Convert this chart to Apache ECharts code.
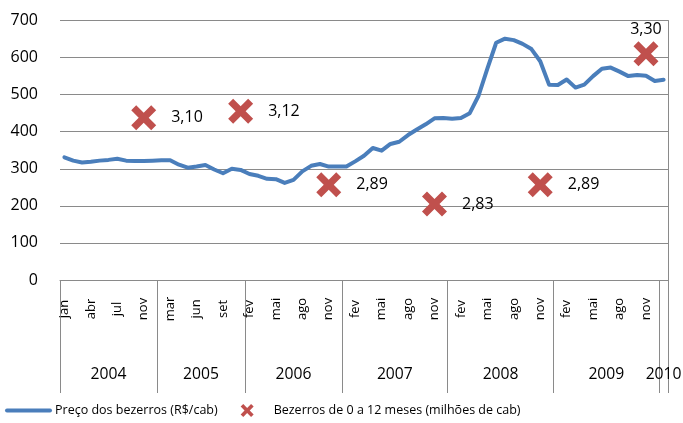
<!DOCTYPE html>
<html>
<head>
<meta charset="utf-8" />
<script src="https://cdn.jsdelivr.net/npm/echarts@6/dist/echarts.min.js"></script>
<style>
  html, body { margin: 0; padding: 0; background: #fff; }
  #chart { width: 683px; height: 423px; }
</style>
</head>
<body>
<div id="chart"></div>
<script type="text/javascript">
// meses (categorias) agrupados por ano
var months = [
  'jan','fev','mar','abr','mai','jun','jul','ago','out','nov','dez',
  'fev','mar','abr','mai','jun','jul','ago','set','out','nov',
  'fev','mar','abr','mai','jun','jul','ago','set','out','nov','dez',
  'jan','fev','mar','abr','mai','jun','jul','ago','set','out','nov','dez',
  'jan','fev','mar','abr','mai','jun','jul','ago','set','out','nov','dez',
  'jan','fev','mar','abr','mai','jun','jul','ago','set','out','nov','dez',
  'jan'
];
var years = ['2004', '2005', '2006', '2007', '2008', '2009', '2010'];
var yearSizes = [11, 10, 11, 12, 12, 12, 1];

// Preço dos bezerros (R$/cab)
var preco = [
  331, 322, 317, 319, 322, 324, 327, 322, 321, 321, 322,
  323, 323, 311, 303, 306, 310, 298, 288, 300, 297,
  286, 281, 273, 272, 262, 270, 293, 308, 313, 306, 306,
  306, 320, 335, 356, 349, 367, 373, 391, 406, 420, 436, 437,
  435, 437, 450, 497, 570, 640, 651, 647, 637, 623, 590, 527,
  526, 541, 519, 527, 550, 570, 573, 562, 550, 553, 551, 537,
  540
];

// Bezerros de 0 a 12 meses (milhões de cab), em novembro de cada ano
var bezerrosMes = ['nov 2004', 'nov 2005', 'nov 2006', 'nov 2007', 'nov 2008', 'nov 2009'];
var bezerros = [3.10, 3.12, 2.89, 2.83, 2.89, 3.30];

// posições dos anos no eixo
var yearStarts = [], yearCenters = [];
var acc = 0;
for (var i = 0; i < yearSizes.length; i++) {
  yearStarts.push(acc);
  yearCenters.push(acc + yearSizes[i] / 2);
  acc += yearSizes[i];
}

// índice da categoria de cada ponto de bezerros
var bezerrosData = bezerrosMes.map(function (m, k) {
  var parts = m.split(' ');
  var y = years.indexOf(parts[1]);
  var idx = -1;
  for (var j = yearStarts[y]; j < yearStarts[y] + yearSizes[y]; j++) {
    if (months[j] === parts[0]) { idx = j; break; }
  }
  return [idx, bezerros[k]];
});

var FONT = '"Open Sans", sans-serif';
var GRAY = '#8a8a8a';
var X_PATH = 'path://M0,2 L2,0 L5,3 L8,0 L10,2 L7,5 L10,8 L8,10 L5,7 L2,10 L0,8 L3,5 Z';

var myChart = echarts.init(document.getElementById('chart'));

var option = {
  animation: false,
  textStyle: { fontFamily: FONT, color: '#000' },
  grid: {
    left: 60, right: 15, top: 20.5, bottom: 143,
    outerBoundsMode: 'none'
  },
  legend: {
    left: 5, top: 404, padding: 0,
    itemWidth: 43, itemHeight: 13, itemGap: 23,
    textStyle: { fontFamily: FONT, fontSize: 12.5, color: '#000' },
    data: [
      {
        name: 'Preço dos bezerros (R$/cab)',
        itemStyle: { opacity: 0 },
        lineStyle: { width: 4, color: '#4a7ebb' }
      },
      { name: 'Bezerros de 0 a 12 meses (milhões de cab)' }
    ]
  },
  xAxis: [
    {
      type: 'category',
      data: months,
      boundaryGap: true,
      axisLine: { show: true, lineStyle: { color: GRAY, width: 1 } },
      axisTick: {
        show: true,
        length: 113,
        lineStyle: { color: GRAY, width: 1 },
        interval: function (index) { return yearStarts.indexOf(index) >= 0; }
      },
      axisLabel: {
        interval: 2,
        rotate: 90,
        align: 'center',
        verticalAlign: 'middle',
        margin: 29,
        fontFamily: FONT,
        fontSize: 13,
        color: '#000'
      },
      splitLine: { show: false }
    },
    {
      type: 'value',
      position: 'bottom',
      min: 0, max: months.length,
      axisLine: { show: false },
      axisTick: { show: false },
      splitLine: { show: false },
      axisLabel: {
        customValues: yearCenters,
        formatter: function (v) { return years[yearCenters.indexOf(v)]; },
        margin: 87,
        fontFamily: FONT,
        fontSize: 15.7,
        color: '#000'
      }
    }
  ],
  yAxis: [
    {
      type: 'value',
      min: 0, max: 700, interval: 100,
      axisLine: { show: false },
      axisTick: { show: false },
      axisLabel: { margin: 22, fontFamily: FONT, fontSize: 16, color: '#000' },
      splitLine: { lineStyle: { color: GRAY, width: 1 } }
    },
    {
      type: 'value',
      position: 'right',
      min: 2.592, max: 3.404,
      axisLine: { show: true, lineStyle: { color: GRAY, width: 1 } },
      axisTick: { show: false },
      axisLabel: { show: false },
      splitLine: { show: false }
    }
  ],
  series: [
    {
      name: 'Preço dos bezerros (R$/cab)',
      type: 'line',
      xAxisIndex: 0,
      yAxisIndex: 0,
      data: preco,
      symbol: 'none',
      lineStyle: { color: '#4a7ebb', width: 4, cap: 'round', join: 'round' },
      itemStyle: { color: '#4a7ebb' }
    },
    {
      name: 'Bezerros de 0 a 12 meses (milhões de cab)',
      type: 'scatter',
      xAxisIndex: 0,
      yAxisIndex: 1,
      data: bezerrosData,
      symbol: X_PATH,
      symbolKeepAspect: true,
      symbolSize: 25,
      itemStyle: { color: '#c0504d', opacity: 1 },
      label: {
        show: true,
        position: 'right',
        distance: 15,
        fontFamily: FONT,
        fontSize: 16,
        color: '#000',
        formatter: function (p) { return p.value[1].toFixed(2).replace('.', ','); }
      },
      labelLayout: function (params) {
        // último ponto: rótulo acima do marcador
        if (params.dataIndex === bezerrosData.length - 1) {
          return {
            x: params.rect.x + params.rect.width / 2,
            y: params.rect.y - 12,
            align: 'center',
            verticalAlign: 'middle'
          };
        }
      }
    }
  ]
};

myChart.setOption(option);
</script>
</body>
</html>
